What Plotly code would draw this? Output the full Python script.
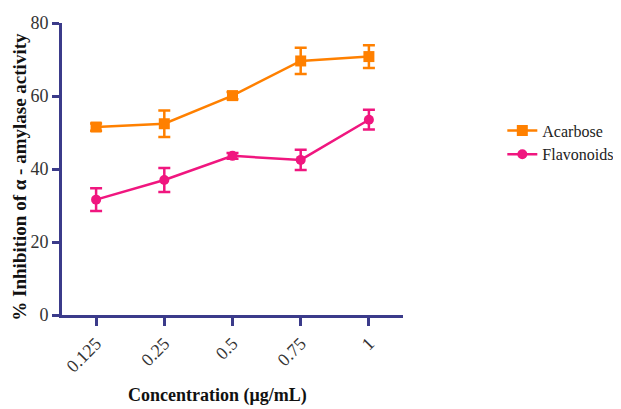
import plotly.graph_objects as go

concentrations = ["0.125", "0.25", "0.5", "0.75", "1"]
acarbose = [51.5, 52.4, 60.1, 69.6, 70.8]
acarbose_err = [1.0, 3.6, 1.0, 3.6, 3.1]
flavonoids = [31.6, 37.0, 43.6, 42.5, 53.5]
flavonoids_err = [3.1, 3.3, 0.8, 2.8, 2.7]
y_ticks = [0, 20, 40, 60, 80]

AXIS = "#3b3b8a"
ORANGE = "#FF8000"
PINK = "#F0167F"
FONT = "Liberation Serif"

fig = go.Figure()
fig.add_trace(go.Scatter(
    x=concentrations, y=acarbose, name="Acarbose", mode="lines+markers",
    line=dict(color=ORANGE, width=2.5),
    marker=dict(symbol="square", size=11, color=ORANGE),
    error_y=dict(type="data", array=acarbose_err, color=ORANGE, thickness=2.5, width=6),
))
fig.add_trace(go.Scatter(
    x=concentrations, y=flavonoids, name="Flavonoids", mode="lines+markers",
    line=dict(color=PINK, width=2.5),
    marker=dict(symbol="circle", size=10, color=PINK),
    error_y=dict(type="data", array=flavonoids_err, color=PINK, thickness=2.5, width=6),
))

fig.update_layout(
    width=621, height=409,
    margin=dict(l=54, r=226, t=15, b=102),
    paper_bgcolor="white", plot_bgcolor="white",
    font=dict(family=FONT, color="#222222", size=16),
    showlegend=True,
    legend=dict(xref="container", yref="container", x=0.796, y=0.742,
                xanchor="left", yanchor="top",
                font=dict(family=FONT, size=16, color="#222222"),
                itemwidth=30, tracegroupgap=0),
    xaxis=dict(
        type="category", range=[-0.5, 4.5], automargin=False,
        showline=True, linecolor=AXIS, linewidth=3,
        ticks="outside", tickcolor=AXIS, tickwidth=2.5, ticklen=8,
        tickangle=-45, tickfont=dict(family=FONT, size=18, color="#333333"),
        showgrid=False, zeroline=False,
    ),
    yaxis=dict(
        range=[0, 80], tickvals=y_ticks, automargin=False,
        showline=True, linecolor=AXIS, linewidth=3,
        ticks="outside", tickcolor=AXIS, tickwidth=2.5, ticklen=7,
        tickfont=dict(family=FONT, size=18, color="#333333"),
        showgrid=False, zeroline=False,
    ),
    annotations=[
        dict(text="<b>Concentration (μg/mL)</b>", xref="paper", yref="paper",
             x=0.457, y=-0.277, xanchor="center", yanchor="middle", showarrow=False,
             font=dict(family=FONT, size=18, color="#111111")),
        dict(text="<b>% Inhibition of α - amylase activity</b>", xref="paper", yref="paper",
             x=-0.125, y=0.475, xanchor="center", yanchor="middle", showarrow=False,
             textangle=-90, font=dict(family=FONT, size=19, color="#111111")),
    ],
)

fig.write_html("out.html")
